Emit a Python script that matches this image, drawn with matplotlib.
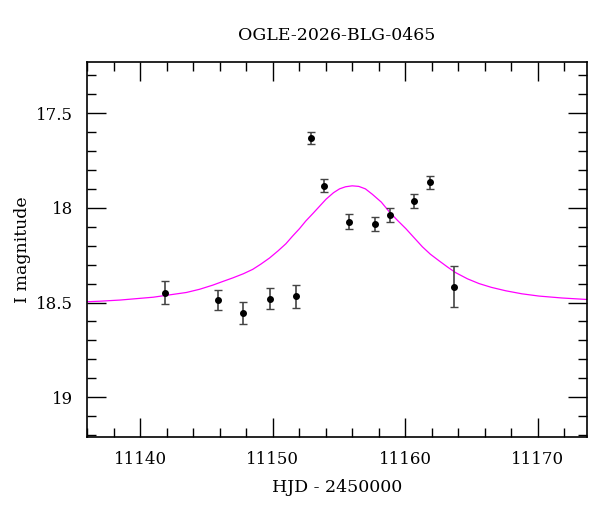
import numpy as np
import matplotlib
matplotlib.use('Agg')
import matplotlib.pyplot as plt
from matplotlib.ticker import MultipleLocator

title_string = 'OGLE-2026-BLG-0465'

# photometry
hjd = [11141.9, 11145.85, 11147.8, 11149.8, 11151.8, 11152.93, 11153.9,
       11155.8, 11157.7, 11158.86, 11160.7, 11161.85, 11163.66]
mag = [18.449, 18.487, 18.556, 18.479, 18.468, 17.632, 17.884,
       18.074, 18.084, 18.037, 17.965, 17.866, 18.416]
err = [0.060, 0.053, 0.060, 0.053, 0.060, 0.030, 0.034,
       0.040, 0.037, 0.036, 0.038, 0.036, 0.108]

# model curve
model_hjd = [11136.0, 11137.0, 11138.5, 11140.0, 11141.0, 11142.5, 11143.5,
             11144.5, 11145.5, 11146.2, 11147.0, 11147.8, 11148.5, 11149.1,
             11149.77, 11150.4, 11151.0, 11151.5, 11152.03, 11152.5, 11153.04,
             11154.04, 11154.6, 11155.05, 11155.5, 11156.0, 11156.5, 11157.0,
             11157.53, 11158.2, 11158.79, 11159.4, 11160.05, 11160.7, 11161.3,
             11161.9, 11162.56, 11163.2, 11163.8, 11164.7, 11165.57, 11166.5,
             11167.58, 11168.8, 11170.09, 11171.8, 11173.7]
model_mag = [18.496, 18.493, 18.487, 18.478, 18.472, 18.457, 18.447,
             18.430, 18.408, 18.390, 18.370, 18.348, 18.325, 18.298,
             18.265, 18.228, 18.190, 18.150, 18.110, 18.070, 18.030,
             17.954, 17.920, 17.900, 17.889, 17.884, 17.887, 17.900,
             17.929, 17.970, 18.020, 18.065, 18.110, 18.160, 18.206,
             18.245, 18.280, 18.313, 18.342, 18.375, 18.400, 18.420,
             18.438, 18.454, 18.466, 18.476, 18.484]

plt.rcParams['font.family'] = ['DejaVu Serif']
plt.rcParams['font.size'] = 12

fig = plt.figure(figsize=(6, 5.12), dpi=100)
ax = fig.add_axes([0.145, 0.1465, 0.833, 0.7325])

ax.plot(model_hjd, model_mag, color='#ff00ff', lw=0.9, zorder=2)
ax.errorbar(hjd, mag, yerr=err, fmt='o', color='black', ms=4, ecolor='#444444',
            elinewidth=1.2, capsize=3, capthick=1.0, zorder=3)

ax.set_xlim(11136, 11173.7)
ax.set_ylim(19.21, 17.23)
ax.xaxis.set_major_locator(MultipleLocator(10))
ax.xaxis.set_minor_locator(MultipleLocator(2))
ax.yaxis.set_minor_locator(MultipleLocator(0.1))
ax.set_yticks([17.5, 18, 18.5, 19])
ax.set_yticklabels(['17.5', '18', '18.5', '19'])
ax.tick_params(which='both', direction='in', top=True, right=True, width=1)
ax.tick_params(which='major', length=13.5, pad=10)
ax.tick_params(which='minor', length=6.5)
for s in ax.spines.values():
    s.set_linewidth(1.2)

ax.set_xlabel('HJD - 2450000', labelpad=8, fontsize=12.5)
ax.set_ylabel('I magnitude', labelpad=4, fontsize=12.5)
ax.set_title(title_string, pad=16, fontsize=12.5)

plt.savefig('out.png')
